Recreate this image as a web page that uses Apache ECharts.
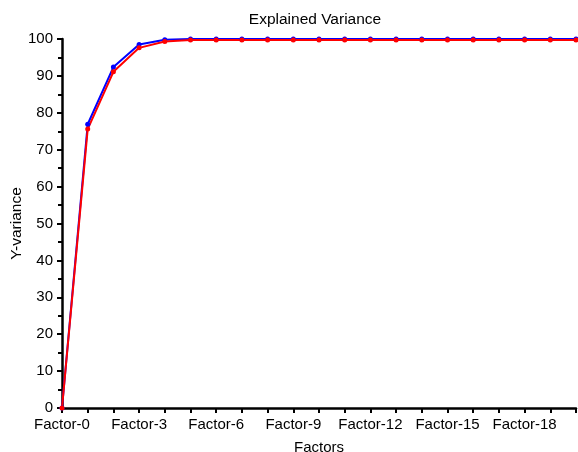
<!DOCTYPE html>
<html style="width: 100%;height:100%;">
<head>
    <meta charset="utf-8">
    <title>Explained Variance</title>
    <script src="https://cdn.jsdelivr.net/npm/echarts@6/dist/echarts.min.js"></script>
    <style>
        body { margin: 0; background: #ffffff; }
        #chart { width: 578px; height: 452px; }
    </style>
</head>
<body>
<div id="chart"></div>
<script>
    const factors = [];
    for (let i = 0; i <= 20; i++) factors.push('Factor-' + i);

    const blueValues = [0, 76.9, 92.4, 98.5, 99.8, 100, 100, 100, 100, 100, 100,
        100, 100, 100, 100, 100, 100, 100, 100, 100, 100];
    const redValues = [0, 75.6, 91.1, 97.6, 99.3, 99.7, 99.7, 99.7, 99.7, 99.7, 99.7,
        99.7, 99.7, 99.7, 99.7, 99.7, 99.7, 99.7, 99.7, 99.7, 99.7];

    const font = 'Liberation Sans, Arial, sans-serif';
    const chart = echarts.init(document.getElementById('chart'));

    chart.setOption({
        animation: false,
        title: {
            text: 'Explained Variance',
            left: 310, top: 7,
            textAlign: 'center',
            textStyle: { fontFamily: font, fontSize: 15.5, fontWeight: 'normal', color: '#000' }
        },
        grid: { left: 62, right: 2, top: 39, bottom: 44, outerBoundsMode: 'none', containLabel: false },
        xAxis: {
            type: 'category',
            data: factors,
            boundaryGap: false,
            name: 'Factors',
            nameLocation: 'middle',
            nameGap: 32,
            nameMoveOverlap: false,
            nameTextStyle: { fontFamily: font, fontSize: 15, color: '#000' },
            axisLine: { lineStyle: { color: '#000', width: 2.5 } },
            axisTick: { interval: 0, length: 5, lineStyle: { color: '#000', width: 2 } },
            axisLabel: { interval: 2, fontFamily: font, fontSize: 15, color: '#000', margin: 9 },
            splitLine: { show: false }
        },
        yAxis: {
            type: 'value',
            min: 0, max: 100, interval: 10,
            name: 'Y-variance',
            nameLocation: 'middle',
            nameGap: 37,
            nameMoveOverlap: false,
            nameTextStyle: { fontFamily: font, fontSize: 15.5, color: '#000' },
            axisLine: { show: true, lineStyle: { color: '#000', width: 2.5 } },
            axisTick: { show: true, length: 5, lineStyle: { color: '#000', width: 2 } },
            minorTick: { show: true, splitNumber: 2, length: 4, lineStyle: { color: '#000', width: 2 } },
            axisLabel: { fontFamily: font, fontSize: 15, color: '#000', margin: 9 },
            splitLine: { show: false }
        },
        series: [
            {
                name: 'blue', type: 'line', data: blueValues,
                symbol: 'circle', symbolSize: 5,
                itemStyle: { color: '#0000ff' },
                lineStyle: { color: '#0000ff', width: 2 }
            },
            {
                name: 'red', type: 'line', data: redValues,
                symbol: 'circle', symbolSize: 5,
                itemStyle: { color: '#ff0000' },
                lineStyle: { color: '#ff0000', width: 2 }
            }
        ]
    });
</script>
</body>
</html>
